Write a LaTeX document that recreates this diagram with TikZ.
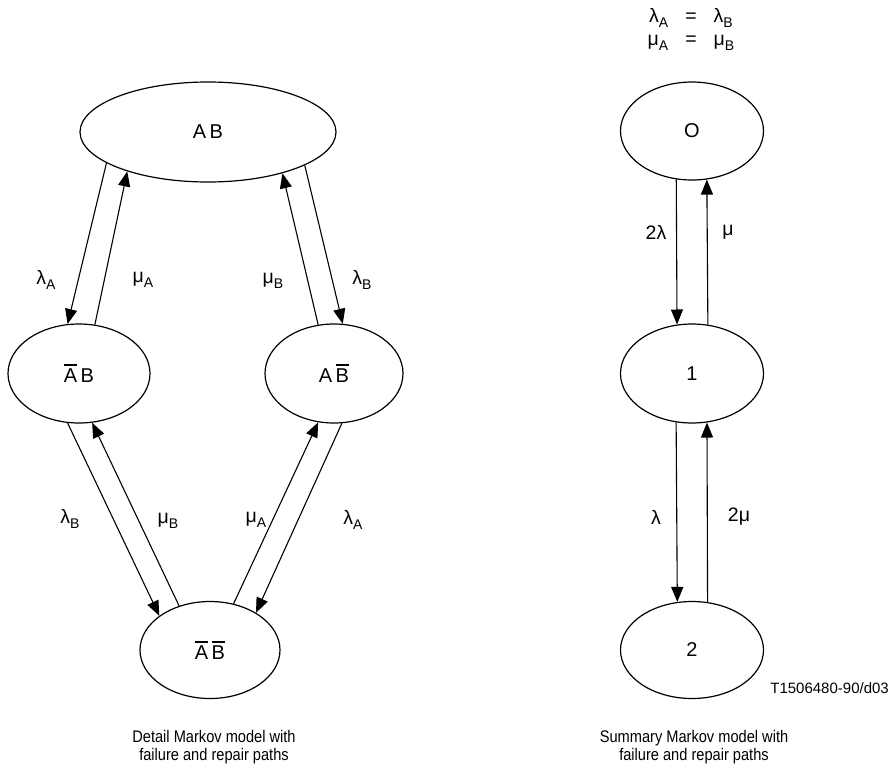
\documentclass[tikz,border=0pt]{standalone}
\usepackage{fontspec}
\setmainfont{Liberation Sans}
\usetikzlibrary{shapes.geometric,arrows.meta}
\newcommand\sbs[1]{\raisebox{-0.45ex}{\fontsize{14}{15}\selectfont #1}}
\newcommand\ovl[1]{\leavevmode\setbox0\hbox{#1}\rlap{\rule[\dimexpr\ht0+2.6pt\relax]{\wd0}{2pt}}\box0}
\newcommand\captwo[2]{\scalebox{0.87}[1]{\begin{tabular}{@{}c@{}}#1\\#2\end{tabular}}}
\begin{document}
\begin{tikzpicture}[x=1pt,y=-1pt,
  st/.style={ellipse,draw,line width=1.2pt,inner sep=0pt,font=\fontsize{20}{22}\selectfont},
  lab/.style={font=\fontsize{19.5}{21}\selectfont,inner sep=0pt},
  captext/.style={font=\fontsize{16.8}{17}\selectfont,inner sep=0pt},
  arr/.style={line width=1.1pt,-{Triangle[length=15pt,width=12pt]}}]
\useasboundingbox (0,0) rectangle (893,769);
% left detail model
\node[st,minimum width=256pt,minimum height=100pt] (AB) at (208,132) {A\,B};
\node[st,minimum width=142pt,minimum height=99pt] (L) at (79,373.5) {\ovl{A}\,B};
\node[st,minimum width=138pt,minimum height=99pt] (R) at (334,373.5) {A\,\ovl{B}};
\node[st,minimum width=140pt,minimum height=97pt] (D) at (210,650) {\ovl{A}\,\ovl{B}};
\draw[arr] (AB.197) -- (L.103);
\draw[arr] (L.72) -- (AB.206);
\draw[arr] (R.108) -- (AB.331.6);
\draw[arr] (AB.341.9) -- (R.80.5);
\draw[arr] (L.257.5) -- (D.146.6);
\draw[arr] (D.125.7) -- (L.285.8);
\draw[arr] (D.63.4) -- (R.252);
\draw[arr] (R.279) -- (D.39.4);
\node[lab] (la1) at (46,280) {λ\sbs{A}};
\node[lab] (lm1) at (143,280) {μ\sbs{A}};
\node[lab] (lm2) at (273,281) {μ\sbs{B}};
\node[lab] (la2) at (362,280) {λ\sbs{B}};
\node[lab] (lb3) at (70,519) {λ\sbs{B}};
\node[lab] (lm3) at (168,521) {μ\sbs{B}};
\node[lab] (lm4) at (256,520) {μ\sbs{A}};
\node[lab] (lb4) at (353,520) {λ\sbs{A}};
\node[captext] (c1) at (214,748) {\captwo{Detail Markov model with}{failure and repair paths}};
% right summary model
\node[lab] (eq1) at (691,18) {λ\sbs{A}\hspace{17pt}=\hspace{17pt}λ\sbs{B}};
\node[lab] (eq2) at (691,43) {μ\sbs{A}\hspace{17pt}=\hspace{17pt}μ\sbs{B}};
\node[st,minimum width=143pt,minimum height=98pt] (O) at (692,131) {O};
\node[st,minimum width=143pt,minimum height=99pt] (N1) at (692,373.5) {1};
\node[st,minimum width=143pt,minimum height=97pt] (N2) at (692,650) {2};
\draw[arr] (O.252.6) -- (N1.107.4);
\draw[arr] (N1.72.6) -- (O.287.4);
\draw[arr] (N1.252.6) -- (N2.107.4);
\draw[arr] (N2.72.6) -- (N1.287.4);
\node[lab] (s1) at (656,232) {2λ};
\node[lab] (s2) at (728,232) {μ};
\node[lab] (s3) at (656,517) {λ};
\node[lab] (s4) at (739,517) {2μ};
\node[font=\fontsize{15}{16}\selectfont,inner sep=0pt,anchor=east] (id) at (889,688) {T1506480-90/d03};
\node[captext] (c2) at (694,748) {\captwo{Summary Markov model with}{failure and repair paths}};
\end{tikzpicture}
\end{document}
